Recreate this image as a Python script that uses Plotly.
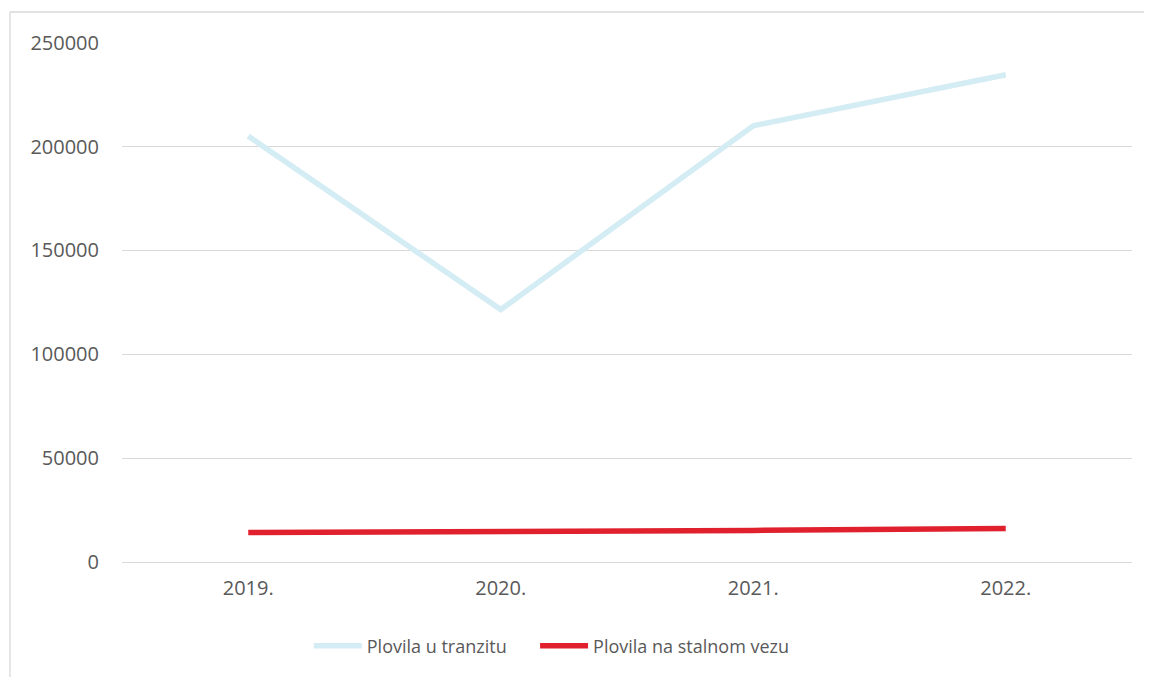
import plotly.graph_objects as go

years = ["2019.", "2020.", "2021.", "2022."]
tranzit = [205000, 121500, 210000, 234500]
stalni_vez = [14200, 14600, 15200, 16100]
y_ticks = [0, 50000, 100000, 150000, 200000, 250000]
series_names = ["Plovila u tranzitu", "Plovila na stalnom vezu"]

FONT = "Open Sans"
TXT = "#595959"
GRID = "#D9D9D9"
PAD = "\u00a0" * 5  # extra gap between legend entries

fig = go.Figure()
fig.add_trace(go.Scatter(x=years, y=tranzit, mode="lines", name=series_names[0] + PAD,
                         line=dict(color="#D4ECF3", width=5.5)))
fig.add_trace(go.Scatter(x=years, y=stalni_vez, mode="lines", name=series_names[1],
                         line=dict(color="#E0202D", width=5.5)))

top_y = (554 - 4) / 520
left_x = (2 - 114) / 1010
right_x = (1144 - 114) / 1010

fig.update_layout(
    width=1152, height=677,
    margin=dict(l=114, r=28, t=34, b=123),
    paper_bgcolor="white", plot_bgcolor="white",
    font=dict(family=FONT, size=18, color=TXT),
    showlegend=True,
    legend=dict(orientation="h", x=0.4255, xanchor="center", y=-0.1615, yanchor="middle",
                font=dict(family=FONT, size=18, color=TXT), itemwidth=48,
                traceorder="normal"),
    xaxis=dict(type="category", range=[-0.5, 3.5], showgrid=False, zeroline=False,
               showline=False, ticks="", ticklabelstandoff=12,
               tickfont=dict(family=FONT, size=20, color=TXT)),
    yaxis=dict(range=[0, 250300], tickvals=y_ticks, ticktext=[str(v) for v in y_ticks],
               showgrid=True, gridcolor=GRID, gridwidth=1.3,
               zeroline=True, zerolinecolor=GRID, zerolinewidth=1.3,
               showline=False, ticks="", ticklabelstandoff=22,
               tickfont=dict(family=FONT, size=20, color=TXT)),
    shapes=[
        dict(type="line", xref="paper", yref="paper", x0=left_x, x1=left_x, y0=-0.4, y1=top_y,
             line=dict(color=GRID, width=1.3), layer="below"),
        dict(type="line", xref="paper", yref="paper", x0=left_x, x1=right_x, y0=top_y, y1=top_y,
             line=dict(color=GRID, width=1.3), layer="below"),
    ],
)

fig.write_html("out.html")
